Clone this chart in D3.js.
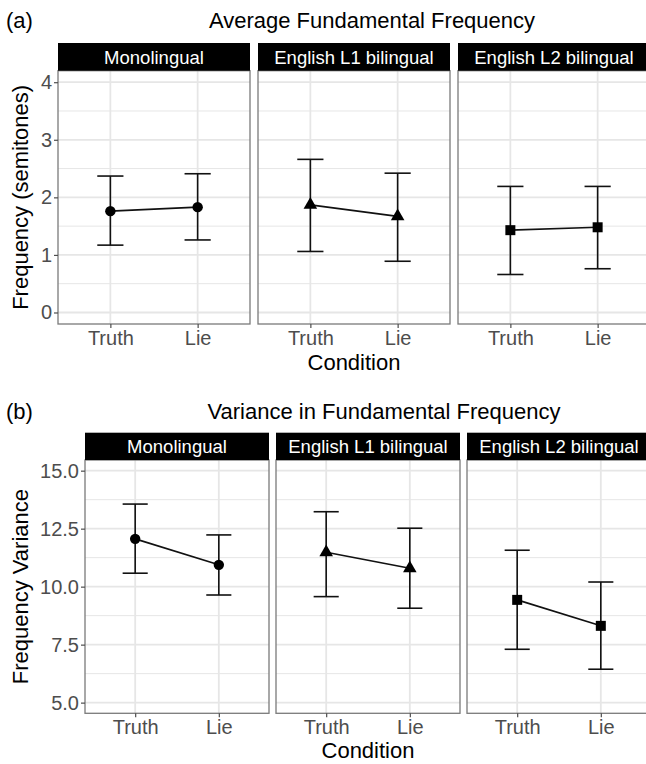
<!DOCTYPE html>
<html>
<head>
<meta charset="utf-8">
<script src="https://cdn.jsdelivr.net/npm/d3@7"></script>
<style>
  body { margin: 0; background: #fff; }
  svg text { font-family: "Liberation Sans", Arial, sans-serif; }
</style>
</head>
<body>
<svg id="chart" width="646" height="764"></svg>
<script>
// data
const groups = ["Monolingual", "English L1 bilingual", "English L2 bilingual"];
const conditions = ["Truth", "Lie"];
const shapes = ["circle", "triangle", "square"];

// (a) average F0, semitones: [Truth, Lie] per group
const avgMean  = [[1.76, 1.83], [1.87, 1.67], [1.43, 1.48]];
const avgLower = [[1.17, 1.26], [1.06, 0.89], [0.66, 0.76]];
const avgUpper = [[2.37, 2.41], [2.66, 2.42], [2.19, 2.19]];
const avgTicks = [0, 1, 2, 3, 4];

// (b) variance in F0
const varMean  = [[12.06, 10.94], [11.48, 10.79], [9.43, 8.31]];
const varLower = [[10.58, 9.64], [9.57, 9.07], [7.30, 6.44]];
const varUpper = [[13.56, 12.23], [13.23, 12.52], [11.57, 10.20]];
const varTicks = [5.0, 7.5, 10.0, 12.5, 15.0];

const svg = d3.select("#chart");
const grid = "#e6e6e6";
const font = "'Liberation Sans', Arial, sans-serif";

function drawChart(opt) {
  const g = svg.append("g");
  const y = d3.scaleLinear().domain(opt.domain).range([opt.bottom, opt.top]);
  const step = opt.ticks[1] - opt.ticks[0];
  const minor = opt.ticks.slice(0, -1).map(t => t + step / 2);

  // tag + title
  g.append("text").attr("x", 6).attr("y", opt.titleY).attr("dy", "0.35em")
    .attr("font-size", 22).text(opt.tag);
  g.append("text").attr("x", opt.titleX).attr("y", opt.titleY).attr("dy", "0.35em")
    .attr("text-anchor", "middle").attr("font-size", 22).text(opt.title);
  const mid = (opt.left[0] + opt.left[2] + opt.width) / 2;

  groups.forEach(function(name, i) {
    const x0 = opt.left[i];
    const x = d3.scalePoint().domain(conditions).range([x0, x0 + opt.width]).padding(0.6);
    const p = g.append("g");

    p.append("rect").attr("x", x0).attr("y", opt.top).attr("width", opt.width)
      .attr("height", opt.bottom - opt.top).attr("fill", "#fff");

    p.selectAll(".minor").data(minor).enter().append("line")
      .attr("x1", x0).attr("x2", x0 + opt.width)
      .attr("y1", d => y(d)).attr("y2", d => y(d))
      .attr("stroke", grid).attr("stroke-width", 1);
    p.selectAll(".major").data(opt.ticks).enter().append("line")
      .attr("x1", x0).attr("x2", x0 + opt.width)
      .attr("y1", d => y(d)).attr("y2", d => y(d))
      .attr("stroke", grid).attr("stroke-width", 1.8);
    p.selectAll(".vgrid").data(conditions).enter().append("line")
      .attr("x1", d => x(d)).attr("x2", d => x(d))
      .attr("y1", opt.top).attr("y2", opt.bottom)
      .attr("stroke", grid).attr("stroke-width", 1.8);

    // error bars
    const half = x.step() * 0.15;
    conditions.forEach(function(c, j) {
      const cx = x(c);
      const lo = y(opt.lower[i][j]), hi = y(opt.upper[i][j]);
      p.append("line").attr("x1", cx).attr("x2", cx).attr("y1", lo).attr("y2", hi)
        .attr("stroke", "#111").attr("stroke-width", 1.6);
      [lo, hi].forEach(function(v) {
        p.append("line").attr("x1", cx - half).attr("x2", cx + half).attr("y1", v).attr("y2", v)
          .attr("stroke", "#111").attr("stroke-width", 1.6);
      });
    });

    // connecting line
    const line = d3.line().x((d, j) => x(conditions[j])).y(d => y(d));
    p.append("path").datum(opt.mean[i]).attr("d", line)
      .attr("fill", "none").attr("stroke", "#111").attr("stroke-width", 1.6);

    // points
    const sym = { circle: [d3.symbolCircle, 85], triangle: [d3.symbolTriangle, 80], square: [d3.symbolSquare, 100] }[shapes[i]];
    p.selectAll(".pt").data(opt.mean[i]).enter().append("path")
      .attr("transform", (d, j) => "translate(" + x(conditions[j]) + "," + y(d) + ")")
      .attr("d", d3.symbol().type(sym[0]).size(sym[1]))
      .attr("fill", "#000");

    // border
    p.append("rect").attr("x", x0).attr("y", opt.top).attr("width", opt.width)
      .attr("height", opt.bottom - opt.top).attr("fill", "none")
      .attr("stroke", "#7a7a7a").attr("stroke-width", 1.3);

    // strip
    p.append("rect").attr("x", x0).attr("y", opt.stripTop).attr("width", opt.width)
      .attr("height", opt.top - opt.stripTop).attr("fill", "#000");
    p.append("text").attr("x", x0 + opt.width / 2).attr("y", (opt.stripTop + opt.top) / 2)
      .attr("dy", "0.36em").attr("text-anchor", "middle").attr("fill", "#fff")
      .attr("font-size", 18.5).text(name);

    // x axis
    const xa = p.append("g").attr("transform", "translate(0," + opt.bottom + ")")
      .call(d3.axisBottom(x).tickSize(4).tickPadding(3));
    xa.select(".domain").remove();
    xa.selectAll("line").attr("stroke", "#4d4d4d").attr("stroke-width", 1.2);
    xa.selectAll("text").attr("font-size", 20).attr("fill", "#4d4d4d").style("font-family", font);
  });

  // y axis
  const ya = g.append("g").attr("transform", "translate(" + opt.left[0] + ",0)")
    .call(d3.axisLeft(y).tickValues(opt.ticks).tickFormat(opt.fmt).tickSize(4).tickPadding(2));
  ya.select(".domain").remove();
  ya.selectAll("line").attr("stroke", "#4d4d4d").attr("stroke-width", 1.2);
  ya.selectAll("text").attr("font-size", 20).attr("fill", "#4d4d4d").style("font-family", font);

  // axis titles
  g.append("text").attr("x", mid).attr("y", opt.xTitleY).attr("dy", "0.35em")
    .attr("text-anchor", "middle").attr("font-size", 22).text("Condition");
  g.append("text")
    .attr("transform", "translate(20," + (opt.top + opt.bottom) / 2 + ") rotate(-90)")
    .attr("dy", "0.35em").attr("text-anchor", "middle").attr("font-size", 22)
    .text(opt.yTitle);
}

drawChart({
  tag: "(a)", title: "Average Fundamental Frequency", titleX: 372, titleY: 20,
  left: [58, 258, 458], width: 192,
  stripTop: 43, top: 70.7, bottom: 324,
  domain: [-0.2, 4.2], ticks: avgTicks, fmt: d3.format("d"),
  mean: avgMean, lower: avgLower, upper: avgUpper,
  xTitleY: 362, yTitle: "Frequency (semitones)"
});

drawChart({
  tag: "(b)", title: "Variance in Fundamental Frequency", titleX: 384, titleY: 411,
  left: [85, 276, 467], width: 184,
  stripTop: 432.7, top: 460, bottom: 713.3,
  domain: [4.54, 15.46], ticks: varTicks, fmt: d3.format(".1f"),
  mean: varMean, lower: varLower, upper: varUpper,
  xTitleY: 750, yTitle: "Frequency Variance"
});
</script>
</body>
</html>
